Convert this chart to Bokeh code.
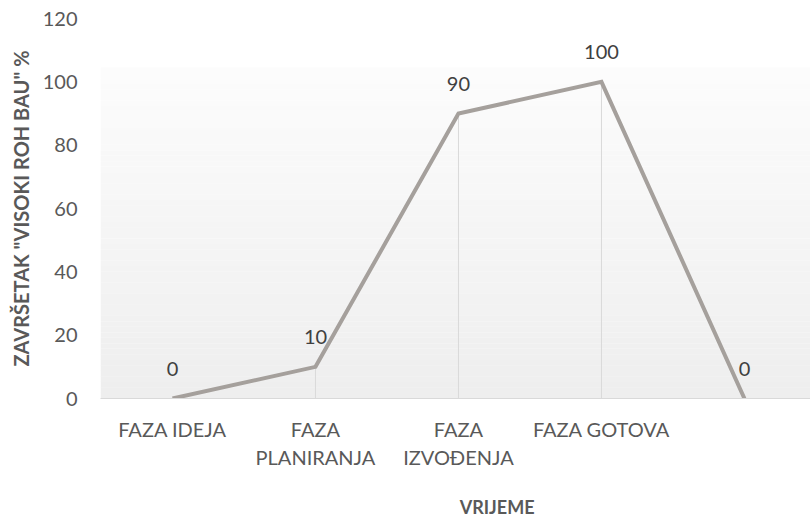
from bokeh.plotting import figure
from bokeh.models import Range1d, FixedTicker, Label, ColumnDataSource
from bokeh.core.properties import value
from bokeh.embed import file_html
from bokeh.resources import INLINE

categories = ["FAZA IDEJA", "FAZA\nPLANIRANJA", "FAZA\nIZVOĐENJA", "FAZA GOTOVA", ""]
values = [0, 10, 90, 100, 0]
y_ticks = [0, 20, 40, 60, 80, 100, 120]
x_title = "VRIJEME"
y_title = 'ZAVRŠETAK "VISOKI ROH BAU" %'

FONT = "Lato"
TXT = "#595959"

xs = list(range(len(categories)))
X0, X1 = -0.5035, 4.462

p = figure(width=810, height=517, output_backend="svg", toolbar_location=None,
           x_range=Range1d(X0, X1), y_range=Range1d(0, 120),
           min_border_left=100, min_border_top=18, min_border_bottom=119, min_border_right=0)
p.background_fill_color = "white"
p.border_fill_color = "white"
p.outline_line_color = None
p.xgrid.visible = False
p.ygrid.visible = False

# gradient plot-area background (decoration)
n = 60
top = 104.5
grad_bottom, grad_top, grad_color = [], [], []
for i in range(n):
    b = top * i / n
    t = top * (i + 1) / n
    f = i / (n - 1)
    c0, c1 = 0xEE, 0xFC
    c = int(round(c0 + (c1 - c0) * f))
    grad_bottom.append(b)
    grad_top.append(t + 0.05)
    grad_color.append("#%02x%02x%02x" % (c, c, c))
p.quad(left=X0, right=X1 + 1, bottom=grad_bottom, top=grad_top, fill_color=grad_color, line_color=None)

# drop lines
p.segment(x0=xs, y0=[0] * len(xs), x1=xs, y1=values, line_color="#d9d9d9", line_width=1)

# main line
p.line(xs, values, line_color="#a5a09c", line_width=4, line_join="miter")

# data labels
src = ColumnDataSource(dict(x=xs, y=values, t=[str(v) for v in values]))
p.text(x="x", y="y", text="t", source=src, y_offset=-30, text_align="center", text_baseline="middle",
       text_font=value(FONT), text_font_size="20px", text_color="#404040")

# axes
p.xaxis.ticker = FixedTicker(ticks=xs)
p.xaxis.major_label_overrides = {i: c for i, c in enumerate(categories)}
p.xaxis.axis_line_color = "#d9d9d9"
p.xaxis.major_tick_line_color = None
p.xaxis.minor_tick_line_color = None
p.xaxis.major_tick_out = 0
p.xaxis.major_label_standoff = 18
p.xaxis.major_label_text_font = FONT
p.xaxis.major_label_text_font_size = "20px"
p.xaxis.major_label_text_color = TXT

p.yaxis.ticker = FixedTicker(ticks=y_ticks)
p.yaxis.axis_line_color = None
p.yaxis.major_tick_line_color = None
p.yaxis.minor_tick_line_color = None
p.yaxis.major_tick_out = 0
p.yaxis.major_label_standoff = 23
p.yaxis.major_label_text_font = FONT
p.yaxis.major_label_text_font_size = "20px"
p.yaxis.major_label_text_color = TXT
p.yaxis.axis_label = y_title
p.yaxis.axis_label_text_font = FONT
p.yaxis.axis_label_text_font_style = "bold"
p.yaxis.axis_label_text_font_size = "20px"
p.yaxis.axis_label_text_color = TXT
p.yaxis.axis_label_standoff = 7

lbl = Label(x=2.27, y=-12, x_units="data", y_units="screen", text=x_title,
            text_align="center", text_baseline="middle", text_font=FONT,
            text_font_style="bold", text_font_size="18px", text_color=TXT)
p.add_layout(lbl, "below")

open("out.html", "w").write(file_html(p, INLINE))
